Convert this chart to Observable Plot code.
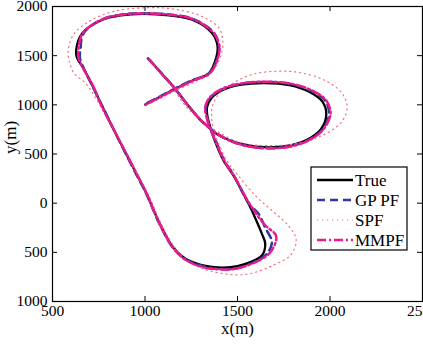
<!DOCTYPE html>
<html>
<head>
<meta charset="utf-8">
<script src="https://cdn.jsdelivr.net/npm/d3@7"></script>
<script src="https://cdn.jsdelivr.net/npm/@observablehq/plot@0.6"></script>
<style>
  html, body { margin: 0; padding: 0; background: #fff; }
  #chart { position: relative; width: 423px; height: 348px; }
</style>
</head>
<body>
<div id="chart"></div>
<script>
const xTicks = [500, 1000, 1500, 2000, 2500];
const yTicks = [-1000, -500, 0, 500, 1000, 1500, 2000];
const seriesNames = ["True", "GP PF", "SPF", "MMPF"];

const truePath = [
  [1019,1468],[1090,1318],[1163,1163],[1230,1000],[1298,850],[1330,795],
  [1390,700],[1460,637],[1550,590],[1646,569],[1760,580],[1870,640],[1950,750],[1980,900],
  [1960,1030],[1890,1130],[1780,1200],[1646,1222],[1520,1205],[1420,1150],[1360,1070],
  [1335,976],[1338,880],[1355,760],
  [1370,671],[1424,434],[1475,291],[1560,-7],[1600,-170],[1632,-312],[1650,-414],[1632,-532],
  [1569,-600],[1500,-640],[1424,-655],[1335,-641],[1226,-573],[1154,-454],[1082,-217],
  [1010,88],[956,291],[860,640],[769,983],[715,1200],[665,1380],[632,1480],[628,1560],
  [661,1728],[769,1865],[870,1910],[985,1926],[1130,1910],[1255,1865],[1363,1728],
  [1392,1600],[1385,1480],[1345,1320],[1260,1250],[1163,1163],[1080,1080],[1001,1003]
];

const gpPath = [
  [1015,1472],[1092,1315],[1160,1168],[1232,995],[1295,855],[1328,798],
  [1392,705],[1465,630],[1555,580],[1650,560],[1770,575],[1880,640],[1960,750],[1995,905],
  [1975,1040],[1900,1140],[1785,1212],[1646,1232],[1515,1212],[1412,1152],[1352,1070],
  [1328,976],[1335,880],[1352,765],
  [1375,668],[1430,430],[1480,285],[1560,0],[1614,-108],[1650,-250],[1686,-397],[1659,-515],
  [1600,-590],[1500,-660],[1420,-672],[1335,-650],[1226,-578],[1150,-450],[1078,-210],
  [1008,92],[952,295],[858,645],[772,978],[712,1205],[668,1375],[648,1480],[651,1560],
  [668,1728],[772,1872],[875,1918],[985,1932],[1135,1918],[1262,1872],[1372,1735],
  [1400,1600],[1392,1480],[1348,1322],[1258,1252],[1160,1165],[1078,1082],[998,1005]
];

const spfPath = [
  [1030,1460],[1095,1310],[1150,1175],[1210,1010],[1290,860],[1340,790],
  [1400,720],[1480,640],[1580,595],[1700,585],[1830,610],[1960,690],[2060,820],[2093,976],
  [2060,1130],[1960,1260],[1830,1330],[1718,1342],[1580,1310],[1470,1214],[1400,1110],
  [1365,990],[1360,880],[1368,770],
  [1385,670],[1440,440],[1500,290],[1600,70],[1699,-95],[1780,-240],[1817,-370],[1790,-522],
  [1682,-641],[1538,-726],[1358,-692],[1240,-600],[1165,-460],[1090,-220],
  [1020,80],[962,285],[865,635],[740,1050],[678,1220],[616,1322],[590,1450],[585,1560],
  [615,1720],[700,1850],[830,1950],[1002,1987],[1150,1975],[1300,1905],[1400,1780],
  [1421,1640],[1410,1500],[1370,1360],[1275,1240],[1170,1150],[1085,1070],[1005,995]
];

const mmpfPath = [
  [1022,1465],[1088,1320],[1165,1160],[1228,1005],[1300,848],[1332,792],
  [1395,698],[1468,628],[1558,578],[1652,558],[1775,572],[1885,638],[1965,752],[2003,910],
  [1980,1045],[1905,1145],[1790,1215],[1646,1235],[1512,1215],[1408,1155],[1348,1072],
  [1325,976],[1332,880],[1350,768],
  [1372,670],[1428,432],[1478,288],[1565,-5],[1646,-217],[1709,-334],[1682,-488],[1610,-590],
  [1480,-670],[1400,-672],[1330,-660],[1222,-580],[1152,-452],[1080,-214],
  [1012,85],[958,288],[862,638],[766,985],[718,1198],[662,1383],[640,1480],[640,1560],
  [664,1732],[770,1870],[872,1916],[985,1930],[1132,1916],[1260,1870],[1370,1732],
  [1402,1600],[1395,1480],[1350,1318],[1262,1248],[1165,1160],[1082,1078],[1003,1000]
];

const styles = [
  {stroke: "#000000", strokeWidth: 2.3, dash: null},
  {stroke: "#2b3a9c", strokeWidth: 2.5, dash: "8,5"},
  {stroke: "#f4707e", strokeWidth: 1.2, dash: "1.2,3.8"},
  {stroke: "#ec1a8c", strokeWidth: 2.5, dash: "9,3,2,3"}
];
const paths = [truePath, gpPath, spfPath, mmpfPath];

const font = "'Liberation Serif', 'Times New Roman', serif";

const lineMarks = paths.map((p, i) => Plot.line(p, {
  x: d => d[0], y: d => d[1], curve: "catmull-rom",
  stroke: styles[i].stroke, strokeWidth: styles[i].strokeWidth,
  strokeDasharray: styles[i].dash
}));

const chart = Plot.plot({
  width: 423, height: 348,
  marginLeft: 52, marginRight: 1, marginTop: 6, marginBottom: 47,
  x: {domain: [500, 2500]},
  y: {domain: [-1000, 2000]},
  style: {fontFamily: font, fontSize: "15.5px", color: "black", background: "white", overflow: "visible"},
  marks: [
    ...lineMarks,
    Plot.tickX(xTicks, {x: d => d, insetTop: 290, stroke: "black"}),
    Plot.tickX(xTicks, {x: d => d, insetBottom: 290, stroke: "black"}),
    Plot.tickY(yTicks, {y: d => d, insetRight: 365, stroke: "black"}),
    Plot.tickY(yTicks, {y: d => d, insetLeft: 365, stroke: "black"}),
    Plot.axisX({ticks: xTicks, tickSize: 0, tickPadding: 3, tickFormat: d => String(d), label: null, fontSize: 15.5}),
    Plot.axisY({ticks: yTicks, tickSize: 0, tickPadding: 5, tickFormat: d => String(Math.abs(d)), label: null, fontSize: 15.5}),
    Plot.frame({stroke: "black", strokeWidth: 1.2}),
    Plot.text(["x(m)"], {text: d => d, frameAnchor: "bottom", dy: 32, fontSize: 17}),
    Plot.text(["y(m)"], {text: d => d, frameAnchor: "left", dx: -42, rotate: -90, fontSize: 17})
  ]
});
document.getElementById("chart").appendChild(chart);

// Legend box drawn into the same SVG
const svg = d3.select(chart);
const lg = svg.append("g").attr("font-family", font).attr("font-size", 17).attr("text-anchor", "start");
lg.append("rect").attr("x", 311).attr("y", 167).attr("width", 96).attr("height", 83)
  .attr("fill", "white").attr("stroke", "black").attr("stroke-width", 1.2);
seriesNames.forEach((name, i) => {
  const y = 180 + i * 20;
  lg.append("line").attr("x1", 317).attr("x2", 353).attr("y1", y).attr("y2", y)
    .attr("stroke", styles[i].stroke).attr("stroke-width", styles[i].strokeWidth)
    .attr("stroke-dasharray", styles[i].dash);
  lg.append("text").attr("x", 355).attr("y", y).attr("dy", "0.35em")
    .attr("text-anchor", "start").attr("fill", "black").text(name);
});
</script>
</body>
</html>
